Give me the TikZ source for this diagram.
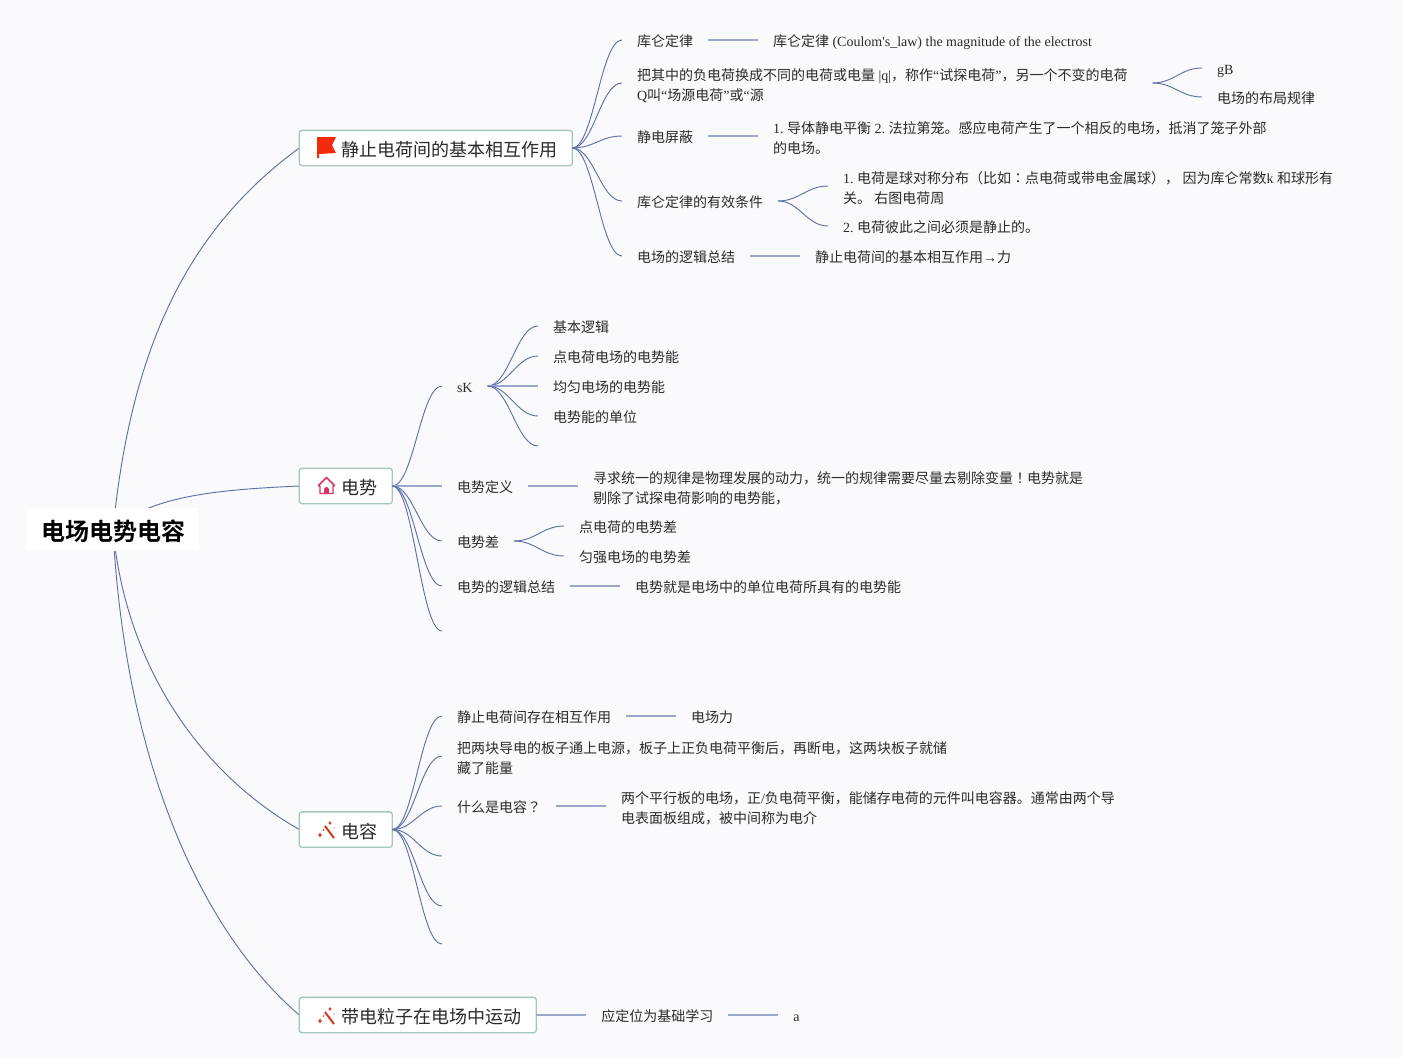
\documentclass[tikz,border=0pt]{standalone}
\usepackage{fontspec}
\setmainfont[BoldFont=Noto Sans CJK SC Bold]{Noto Sans CJK SC}
\newfontfamily\enfont{Liberation Serif}
\newfontfamily\tcfont{Noto Sans CJK TC}
\newcommand{\en}[1]{{\enfont #1}}
\frenchspacing
\usetikzlibrary{positioning,backgrounds}
\definecolor{pagebg}{HTML}{FAFAFC}
\definecolor{curvec}{HTML}{5F70A8}
\definecolor{linkc}{HTML}{9CA6C8}
\definecolor{framec}{HTML}{A6C6BC}
\definecolor{textc}{HTML}{2B2B2B}
\definecolor{flagc}{HTML}{F42A0C}
\definecolor{homec}{HTML}{DA3262}
\definecolor{wandc}{HTML}{D2381F}
\tikzset{
  flagicon/.pic={\fill [flagc] (0,0) -- (19,0) -- (15,8) -- (19,16) -- (2,17) -- (2,21) -- (0,21) -- cycle;},
  homeicon/.pic={
    \draw [homec, line width=1.1pt, line join=round] (-8,0) -- (0,-8) -- (8,0) -- (6.5,1) -- (6.5,8) -- (-6.5,8) -- (-6.5,1) -- cycle;
    \fill [homec] (-2.5,8) -- (-2.5,4) arc (180:360:2.5) -- (2.5,8) -- cycle;
  },
  wandicon/.pic={
    \draw [wandc, line width=1.5pt] (-1.5,-3.5) -- (7.5,8.5);
    \fill [wandc] (3.5,-8.5) -- (4.3,-7) -- (5.5,-6.5) -- (4.3,-6) -- (3.5,-4.5) -- (2.7,-6) -- (1.5,-6.5) -- (2.7,-7) -- cycle;
    \fill [wandc] (-6.5,3) -- (-5.5,4.8) -- (-4,5.5) -- (-5.5,6.2) -- (-6.5,8) -- (-7.5,6.2) -- (-9,5.5) -- (-7.5,4.8) -- cycle;
    \fill [wandc] (-3,0.5) circle (.9);
    \fill [wandc] (7.5,-1.5) circle (.7);
  }
}
\begin{document}
\begin{tikzpicture}[x=.75pt,y=-.75pt,every text node part/.style={align=left}]

\tikzstyle{root} = [rounded corners=2pt,fill=white,font=\fontsize{18}{22}\selectfont\bfseries,text=black,outer sep=0,inner xsep=10.5pt,inner ysep=0pt,minimum height=32.25pt,text height=17.9pt,text depth=2pt]
\tikzstyle{topic} = [rounded corners=2pt,draw=framec,line width=1pt,fill=white,font=\fontsize{13.5}{16}\selectfont,text=textc,anchor=west,outer sep=0,inner xsep=11.25pt,inner ysep=0pt,minimum height=26.5pt,text height=14.5pt,text depth=1.5pt]
\tikzstyle{leaf} = [font=\fontsize{10.5}{15}\selectfont,text=textc,anchor=west,outer sep=0,inner xsep=11.25pt,inner ysep=0pt,text height=11.2pt,text depth=1.5pt]
\tikzstyle{longleaf} = [leaf,text height=27pt]
\tikzstyle{curve} = [draw=curvec,line width=.7pt,out=0,in=180,distance=16pt]
\tikzstyle{main} = [draw=curvec,line width=.7pt]
\tikzstyle{link} = [draw=linkc,line width=1.3pt]

\useasboundingbox (0,0) rectangle (1403,1058);
\begin{pgfonlayer}{background}
\fill [pagebg] (0,0) rectangle (1403,1058);
\end{pgfonlayer}

\node [root] (root) at (113,529.5) {电场电势电容};

\node [topic] (r1) at (299.3,148) {\hspace*{20.25pt}静止电荷间的基本相互作用};
\node [topic] (r2) at (299.3,486) {\hspace*{20.25pt}电势};
\node [topic] (r3) at (299.3,829.5) {\hspace*{20.25pt}电容};
\node [topic] (r4) at (299.3,1015) {\hspace*{20.25pt}带电粒子在电场中运动};

\pic at (317,137) {flagicon};
\pic at (326.5,485.5) {homeicon};
\pic at (326.5,829.5) {wandicon};
\pic at (326.5,1015.5) {wandicon};

\begin{pgfonlayer}{background}
\draw [main] (root.center) .. controls (130,360) and (180,235) .. (r1.west);
\draw [main] (root.center) .. controls (150,497) and (210,490) .. (r2.west);
\draw [main] (root.center) .. controls (125,660) and (195,770) .. (r3.west);
\draw [main] (root.center) .. controls (125,760) and (200,930) .. (r4.west);
\end{pgfonlayer}

\node [leaf] (a1) at (622,40) {库仑定律};
\node [leaf, right=37.5pt of a1] (a1x) {库仑定律\en{ (Coulom's\_law) the magnitude of the electrost}};
\node [longleaf] (a2) at (622,83) {把其中的负电荷换成不同的电荷或电量\en{ |q|}，称作\en{“}试探电荷\en{”}，另一个不变的电荷\\\en{Q}叫\en{“}场源电荷\en{”}或\en{“}源};
\coordinate [right=7.5pt of a2] (a2o);
\node [leaf] (a2a) at (1202,68) {\en{gB}};
\node [leaf] (a2b) at (1202,97) {电场的布局规律};
\node [leaf] (a3) at (622,136) {静电屏蔽};
\node [longleaf, right=37.5pt of a3] (a3x) {\en{1. }导体静电平衡\en{ 2. }法拉第笼。感应电荷产生了一个相反的电场，抵消了笼子外部\\的电场。};
\node [leaf] (a4) at (622,201) {库仑定律的有效条件};
\node [longleaf] (a4a) at (828,186) {\en{1. }电荷是球对称分布（比如{\tcfont ：}点电荷或带电金属球），\en{ }因为库仑常数\en{k }和球形有\\关。\en{ }右图电荷周};
\node [leaf] (a4b) at (828,226) {\en{2. }电荷彼此之间必须是静止的。};
\node [leaf] (a5) at (622,256) {电场的逻辑总结};
\node [leaf, right=37.5pt of a5] (a5x) {静止电荷间的基本相互作用\en{→}力};

\draw [curve] (r1.east) to (a1.west);
\draw [curve] (r1.east) to (a2.west);
\draw [curve] (r1.east) to (a3.west);
\draw [curve] (r1.east) to (a4.west);
\draw [curve] (r1.east) to (a5.west);
\draw [link] (a1) -- (a1x);
\draw [link] (a3) -- (a3x);
\draw [link] (a5) -- (a5x);
\draw [curve] (a2o) to (a2a.west);
\draw [curve] (a2o) to (a2b.west);
\draw [curve] (a4.east) to (a4a.west);
\draw [curve] (a4.east) to (a4b.west);

\node [leaf] (b1) at (442,386) {\en{sK}};
\node [leaf] (b1a) at (538,326) {基本逻辑};
\node [leaf] (b1b) at (538,356) {点电荷电场的电势能};
\node [leaf] (b1c) at (538,386) {均匀电场的电势能};
\node [leaf] (b1d) at (538,416) {电势能的单位};
\coordinate (b1e) at (538,446);
\node [leaf] (b2) at (442,486) {电势定义};
\node [longleaf, right=37.5pt of b2] (b2x) {寻求统一的规律是物理发展的动力，统一的规律需要尽量去剔除变量{\tcfont ！}电势就是\\剔除了试探电荷影响的电势能，};
\node [leaf] (b3) at (442,541) {电势差};
\node [leaf] (b3a) at (564,526) {点电荷的电势差};
\node [leaf] (b3b) at (564,556) {匀强电场的电势差};
\node [leaf] (b4) at (442,586) {电势的逻辑总结};
\node [leaf, right=37.5pt of b4] (b4x) {电势就是电场中的单位电荷所具有的电势能};
\coordinate (b5) at (442,631);

\draw [curve] (r2.east) to (b1.west);
\draw [link] (r2.east) -- (b2.west);
\draw [curve] (r2.east) to (b3.west);
\draw [curve] (r2.east) to (b4.west);
\draw [curve] (r2.east) to (b5);
\draw [curve] (b1.east) to (b1a.west);
\draw [curve] (b1.east) to (b1b.west);
\draw [link] (b1.east) -- (b1c.west);
\draw [curve] (b1.east) to (b1d.west);
\draw [curve] (b1.east) to (b1e);
\draw [link] (b2) -- (b2x);
\draw [curve] (b3.east) to (b3a.west);
\draw [curve] (b3.east) to (b3b.west);
\draw [link] (b4) -- (b4x);

\node [leaf] (c1) at (442,716) {静止电荷间存在相互作用};
\node [leaf, right=37.5pt of c1] (c1x) {电场力};
\node [longleaf] (c2) at (442,756) {把两块导电的板子通上电源，板子上正负电荷平衡后，再断电，这两块板子就储\\藏了能量};
\node [leaf] (c3) at (442,806) {什么是电容{\tcfont ？}};
\node [longleaf, right=37.5pt of c3] (c3x) {两个平行板的电场，正\en{/}负电荷平衡，能储存电荷的元件叫电容器。通常由两个导\\电表面板组成，被中间称为电介};
\coordinate (c4) at (442,856);
\coordinate (c5) at (442,906);
\coordinate (c6) at (442,944);

\draw [curve] (r3.east) to (c1.west);
\draw [curve] (r3.east) to (c2.west);
\draw [curve] (r3.east) to (c3.west);
\draw [curve] (r3.east) to (c4);
\draw [curve] (r3.east) to (c5);
\draw [curve] (r3.east) to (c6);
\draw [link] (c1) -- (c1x);
\draw [link] (c3) -- (c3x);

\node [leaf, right=37.5pt of r4] (d1) {应定位为基础学习};
\node [leaf, right=37.5pt of d1] (d2) {\en{a}};
\draw [link] (r4) -- (d1);
\draw [link] (d1) -- (d2);
\end{tikzpicture}
\end{document}
